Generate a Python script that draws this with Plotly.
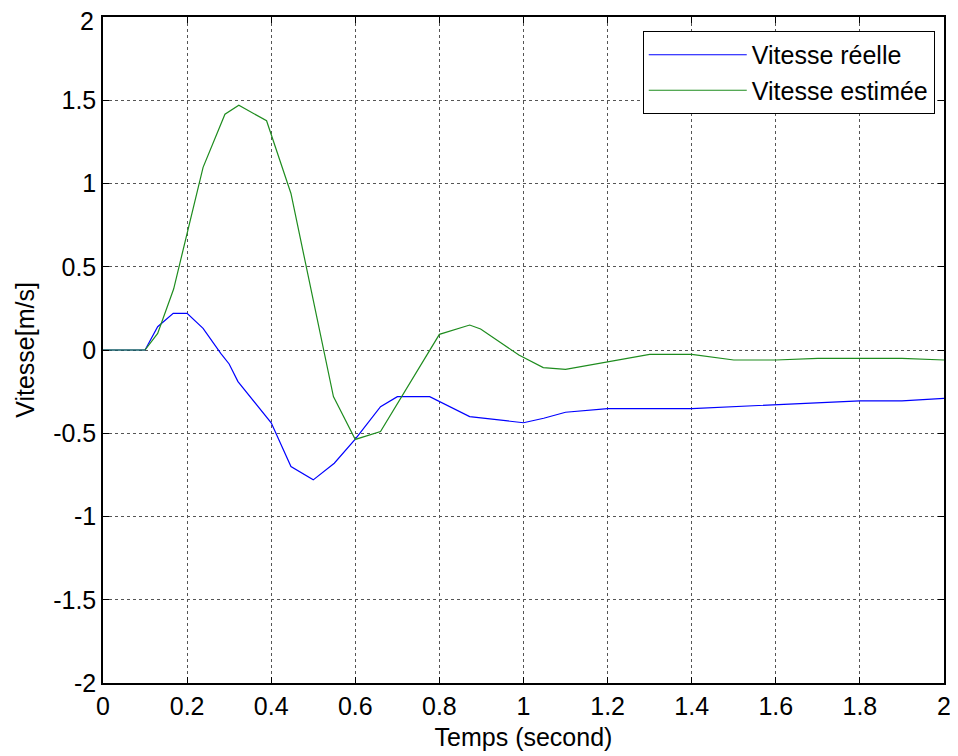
import plotly.graph_objects as go

# Vitesse réelle (blue)
t_reel = [0, 0.1, 0.13, 0.167, 0.2, 0.238, 0.28, 0.3, 0.321, 0.4, 0.447, 0.5,
          0.55, 0.6, 0.66, 0.7, 0.777, 0.872, 1.0, 1.048, 1.1, 1.2, 1.4, 1.6,
          1.8, 1.9, 2.0]
v_reel = [0, 0, 0.14, 0.22, 0.22, 0.13, -0.02, -0.084, -0.19, -0.437, -0.70,
          -0.78, -0.68, -0.535, -0.34, -0.28, -0.28, -0.40, -0.437, -0.41,
          -0.374, -0.352, -0.352, -0.33, -0.305, -0.305, -0.29]

# Vitesse estimée (green)
t_est = [0, 0.1, 0.13, 0.168, 0.238, 0.29, 0.323, 0.389, 0.447, 0.548, 0.6,
         0.66, 0.8, 0.872, 0.898, 0.989, 1.047, 1.1, 1.3, 1.4, 1.5, 1.6, 1.7,
         1.9, 2.0]
v_est = [0, 0, 0.1, 0.366, 1.097, 1.416, 1.47, 1.377, 0.94, -0.28, -0.537,
         -0.49, 0.094, 0.15, 0.126, -0.03, -0.106, -0.116, -0.026, -0.026,
         -0.06, -0.06, -0.05, -0.05, -0.06]

x_ticks = [0, 0.2, 0.4, 0.6, 0.8, 1.0, 1.2, 1.4, 1.6, 1.8, 2.0]
x_labels = ["0", "0.2", "0.4", "0.6", "0.8", "1", "1.2", "1.4", "1.6", "1.8", "2"]
y_ticks = [-2, -1.5, -1, -0.5, 0, 0.5, 1, 1.5, 2]
y_labels = ["-2", "-1.5", "-1", "-0.5", "0", "0.5", "1", "1.5", "2"]

FONT = "Arial, 'Liberation Sans', sans-serif"
FS = 25

fig = go.Figure()
fig.add_trace(go.Scatter(x=t_reel, y=v_reel, mode="lines", name="Vitesse réelle",
                         line=dict(color="#0000FF", width=1.2)))
fig.add_trace(go.Scatter(x=t_est, y=v_est, mode="lines", name="Vitesse estimée",
                         line=dict(color="#1E8C1E", width=1.2)))

axis_common = dict(
    showline=True, linecolor="black", linewidth=1.5, mirror="ticks",
    ticks="inside", ticklen=6, tickcolor="black", tickwidth=1,
    showgrid=True, gridcolor="#555555", gridwidth=1, griddash="dot",
    zeroline=False, automargin=False, ticklabeloverflow="allow",
    tickfont=dict(family=FONT, size=FS, color="black"),
)

# the top y label sits at the very edge of the page; draw it slightly lower
y_text = y_labels[:-1] + [""]

fig.update_xaxes(range=[0, 2], tickvals=x_ticks, ticktext=x_labels,
                 title=dict(text="Temps (second)", font=dict(family=FONT, size=FS, color="black"),
                            standoff=10),
                 **axis_common)
fig.update_yaxes(range=[-2, 2], tickvals=y_ticks, ticktext=y_text,
                 title=dict(text="Vitesse[m/s]", font=dict(family=FONT, size=FS, color="black"),
                            standoff=11),
                 **axis_common)

fig.add_annotation(x=0, xref="paper", y=y_ticks[-1], yref="y", text=y_labels[-1],
                   showarrow=False, xanchor="right", yanchor="middle",
                   xshift=-8, yshift=-4, borderpad=0,
                   font=dict(family=FONT, size=FS, color="black"))

fig.update_layout(
    width=950, height=748,
    margin=dict(l=95, r=14, t=9, b=73),
    paper_bgcolor="white", plot_bgcolor="white",
    font=dict(family=FONT, size=FS, color="black"),
    showlegend=True,
    legend=dict(x=0.989, y=0.979, xanchor="right", yanchor="top",
                bgcolor="white", bordercolor="black", borderwidth=1,
                font=dict(family=FONT, size=FS, color="black"),
                itemwidth=98, tracegroupgap=0),
)

fig.write_html("out.html")
